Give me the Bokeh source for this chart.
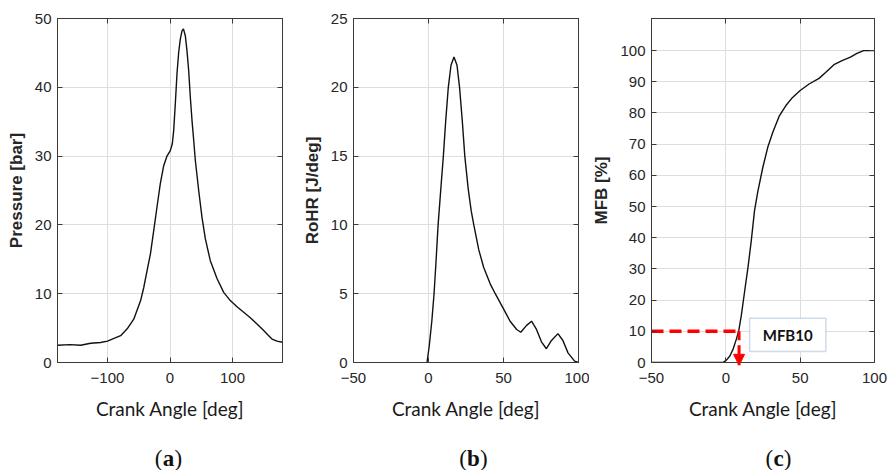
from bokeh.plotting import figure
from bokeh.layouts import row, column
from bokeh.models import (Range1d, LinearAxis, FixedTicker, Label, BoxAnnotation,
                          Arrow, NormalHead)
from bokeh.core.properties import value
from bokeh.embed import file_html
from bokeh.resources import INLINE

# ---------------- data ----------------
press_angle = [-180, -160, -143, -127, -111, -100, -79, -68.5, -58, -47, -42, -36.6,
               -31.3, -26, -20.8, -15.5, -10.1, -4.8, 0.5, 3.7, 5.9, 8.5, 11.2, 13.9,
               16.5, 19.2, 21.5, 24.5, 27.2, 29.9, 32.5, 35.2, 37.9, 40.5, 45.9, 51.2,
               56.5, 64.5, 75.2, 85.9, 96.5, 107.2, 117.9, 128.5, 139.2, 149.9, 157.9,
               163.2, 171.2, 180]
press_bar = [2.5, 2.6, 2.5, 2.8, 2.9, 3.1, 3.9, 4.9, 6.3, 9.0, 10.9, 13.4,
             15.8, 19.2, 22.6, 26.0, 28.6, 30.0, 30.8, 31.8, 33.7, 37.6, 42.0, 45.1,
             47.0, 48.2, 48.5, 47.5, 45.3, 42.4, 38.6, 35.2, 32.3, 29.4, 25.0, 21.1,
             18.0, 14.8, 12.2, 10.2, 9.0, 8.1, 7.3, 6.5, 5.6, 4.65, 3.9,
             3.4, 3.1, 2.95]

rohr_angle = [-1, 0.5, 2.2, 3.7, 5.0, 6.4, 8.2, 9.9, 11.5, 13.2, 15.0, 17.0, 19.0,
              20.7, 22.5, 24.2, 26.5, 28.5, 30.2, 33.5, 36.8, 41.2, 44.5, 50.0, 54.4,
              58.8, 61.5, 65.4, 68.7, 72.0, 75.3, 78.6, 82.0, 86.3, 89.6, 93.0, 97.4,
              100]
rohr_val = [0, 1.2, 3.0, 5.0, 7.3, 10.0, 12.6, 15.0, 17.6, 20.0, 21.6, 22.2, 21.6,
            20.0, 17.6, 15.0, 12.6, 11.0, 10.0, 8.2, 6.9, 5.7, 5.0, 3.9, 3.0,
            2.4, 2.2, 2.7, 3.0, 2.4, 1.5, 1.0, 1.6, 2.1, 1.6, 0.7, 0.1,
            0.0]

mfb_angle = [-50, -2, 0.4, 2.7, 4.9, 7.1, 8.7, 10.4, 12.7, 14.9, 17.1, 19.3, 21.6,
             24.9, 28.2, 31.6, 36.0, 40.4, 44.9, 50.0, 56.0, 62.7, 67.1, 72.7, 78.2,
             83.8, 88.2, 92.7, 100]
mfb_val = [0, 0, 0.75, 2.1, 4.3, 7.5, 10.2, 15, 23, 30.5, 39, 48.7, 55,
           62.6, 69, 73.8, 79.1, 82.4, 85, 87.2, 89.3, 91.1, 93, 95.5, 96.8,
           97.9, 99.1, 100, 100]

MFB10_ANGLE = 8.9
MFB10_LEVEL = 10

xticks_a = [-100, 0, 100]
yticks_a = [0, 10, 20, 30, 40, 50]
xticks_bc = [-50, 0, 50, 100]
yticks_b = [0, 5, 10, 15, 20, 25]
yticks_c = [0, 10, 20, 30, 40, 50, 60, 70, 80, 90, 100]

panel_tags = ["a", "b", "c"]

# ---------------- styling ----------------
AX_COL = "#3a3a3a"
TICK_COL = "#262626"
GRID_COL = "#dedede"
TICK_FONT = "Liberation Sans"
XLAB_FONT = "Lato"
FRAME_H = 344


def make_panel(xr, yr, xt, yt, ylabel, bl, br, fw):
    p = figure(frame_width=fw, frame_height=FRAME_H,
               x_range=Range1d(*xr), y_range=Range1d(*yr),
               output_backend="svg", toolbar_location=None,
               min_border_left=bl, min_border_right=br,
               min_border_top=18, min_border_bottom=68)
    p.background_fill_color = "white"
    p.border_fill_color = "white"
    p.outline_line_color = AX_COL
    p.outline_line_width = 1

    for ax in (p.xaxis[0], p.yaxis[0]):
        ax.major_tick_in = 5
        ax.major_tick_out = 0
        ax.minor_tick_line_color = None
        ax.axis_line_color = AX_COL
        ax.major_tick_line_color = AX_COL
        ax.major_label_text_font = TICK_FONT
        ax.major_label_text_font_size = "15px"
        ax.major_label_text_color = TICK_COL
    p.xaxis.ticker = FixedTicker(ticks=xt)
    p.yaxis.ticker = FixedTicker(ticks=yt)
    p.xaxis.major_label_standoff = 10
    p.yaxis.major_label_standoff = 6

    p.xaxis.axis_label = "Crank Angle [deg]"
    p.xaxis.axis_label_text_font = XLAB_FONT
    p.xaxis.axis_label_text_font_style = "normal"
    p.xaxis.axis_label_text_font_size = "19px"
    p.xaxis.axis_label_text_color = "#1a1a1a"
    p.xaxis.axis_label_standoff = 11

    p.yaxis.axis_label = ylabel
    p.yaxis.axis_label_text_font = TICK_FONT
    p.yaxis.axis_label_text_font_style = "bold"
    p.yaxis.axis_label_text_font_size = "17px"
    p.yaxis.axis_label_text_color = TICK_COL
    p.yaxis.axis_label_standoff = 6

    # mirrored ticks on top and right (MATLAB box style), no labels
    for loc, ticks in (("above", xt), ("right", yt)):
        ax = LinearAxis(ticker=FixedTicker(ticks=ticks), major_tick_in=5,
                        major_tick_out=0, minor_tick_line_color=None,
                        axis_line_color=AX_COL, major_tick_line_color=AX_COL,
                        major_label_text_font_size="1px",
                        major_label_text_color=None, major_label_standoff=0)
        p.add_layout(ax, loc)

    p.xgrid.ticker = FixedTicker(ticks=xt)
    p.ygrid.ticker = FixedTicker(ticks=yt)
    p.grid.grid_line_color = GRID_COL
    p.grid.grid_line_width = 1
    return p


pa = make_panel((-180, 180), (0, 50), xticks_a, yticks_a, "Pressure [bar]", 57, 14, 225)
pa.line(press_angle, press_bar, line_color="#111111", line_width=1.4)

pb = make_panel((-50, 100), (0, 25), xticks_bc, yticks_b, "RoHR [J/deg]", 57, 11, 225)
pb.line(rohr_angle, rohr_val, line_color="#111111", line_width=1.4)

pc = make_panel((-50, 100), (0, 110.3), xticks_bc, yticks_c, "MFB [%]", 58, 14, 223)
pc.line(mfb_angle, mfb_val, line_color="#111111", line_width=1.4)

# MFB10 marker
pc.line([-50, MFB10_ANGLE], [MFB10_LEVEL, MFB10_LEVEL], line_color="red",
        line_width=3.5, line_dash="12 6")
pc.add_layout(Arrow(end=NormalHead(size=11, fill_color="red", line_color="red"),
                    x_start=MFB10_ANGLE, y_start=MFB10_LEVEL, x_end=MFB10_ANGLE,
                    y_end=-0.9, line_color="red", line_width=3, line_dash="9 5"))
pc.add_layout(BoxAnnotation(left=16, right=67.3, bottom=3.5, top=14.2,
                            fill_color="white", fill_alpha=1.0,
                            line_color="#5b86b0", line_width=1.5))
pc.add_layout(Label(x=41.6, y=8.9, text="MFB10", text_align="center",
                    text_baseline="middle", text_font="Lato", text_font_style="bold",
                    text_font_size="15px", text_color="#111111"))

# ---------------- panel tags row: (a) (b) (c) ----------------
tag_fig = figure(width=888, height=40, x_range=Range1d(0, 888), y_range=Range1d(0, 40),
                 output_backend="svg", toolbar_location=None,
                 min_border=0, outline_line_color=None)
tag_fig.axis.visible = False
tag_fig.grid.visible = False
tag_cx = [168, 473, 778]
tag_half = [6, 6.5, 5.3]
tag_y = [12, 12, 12]
tag_fig.text(x=tag_cx, y=tag_y, text=panel_tags, text_align="center",
             text_baseline="middle", text_font=value("Liberation Serif"),
             text_font_size="23px", text_font_style="bold", text_color="#111111")
tag_fig.text(x=[c - h for c, h in zip(tag_cx, tag_half)], y=tag_y,
             text=["("] * 3, text_align="right", text_baseline="middle",
             text_font=value("Liberation Serif"), text_font_size="23px",
             text_color="#111111")
tag_fig.text(x=[c + h for c, h in zip(tag_cx, tag_half)], y=tag_y,
             text=[")"] * 3, text_align="left", text_baseline="middle",
             text_font=value("Liberation Serif"), text_font_size="23px",
             text_color="#111111")

layout = column(row(pa, pb, pc, spacing=0), tag_fig, spacing=0)
open("out.html", "w").write(file_html(layout, INLINE))
